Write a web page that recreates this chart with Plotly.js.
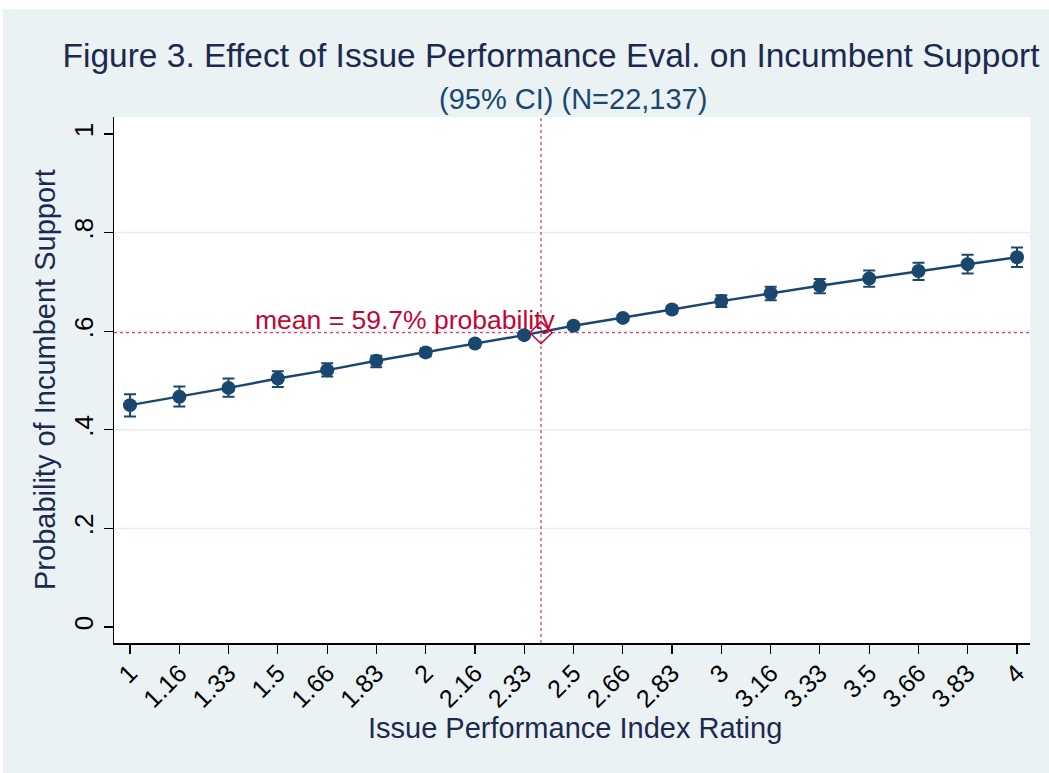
<!DOCTYPE html>
<html><head><meta charset="utf-8">
<script src="https://cdn.plot.ly/plotly-3.0.1.min.js"></script>
<style>html,body{margin:0;padding:0;background:#fff;}#chart{width:1049px;height:773px;}</style>
</head><body><div id="chart"></div>
<script>
// Data
const xValues = [1, 1.167, 1.333, 1.5, 1.667, 1.833, 2, 2.167, 2.333, 2.5, 2.667, 2.833, 3, 3.167, 3.333, 3.5, 3.667, 3.833, 4];
const xTickLabels = ["1","1.16","1.33","1.5","1.66","1.83","2","2.16","2.33","2.5","2.66","2.83","3","3.16","3.33","3.5","3.66","3.83","4"];
const probability = [0.450, 0.467, 0.485, 0.504, 0.521, 0.540, 0.557, 0.575, 0.592, 0.611, 0.627, 0.644, 0.661, 0.677, 0.692, 0.707, 0.722, 0.736, 0.750];
const ciLower = [0.427, 0.447, 0.467, 0.487, 0.508, 0.527, 0.549, 0.569, 0.587, 0.606, 0.621, 0.637, 0.649, 0.663, 0.677, 0.690, 0.704, 0.717, 0.730];
const ciUpper = [0.472, 0.488, 0.504, 0.519, 0.535, 0.550, 0.565, 0.581, 0.597, 0.616, 0.633, 0.651, 0.673, 0.690, 0.706, 0.723, 0.739, 0.755, 0.770];
const meanX = 2.39;
const meanY = 0.597;
const yTickVals = [0, 0.2, 0.4, 0.6, 0.8, 1];
const yTickLabels = ["0", ".2", ".4", ".6", ".8", "1"];
const gridVals = [0.2, 0.4, 0.6, 0.8];

const navy = '#1a476f';
const red = '#c10534';

const traces = [
  {
    x: xValues, y: probability, type: 'scatter', mode: 'lines+markers',
    line: {color: navy, width: 2.5},
    marker: {color: navy, size: 14},
    error_y: {type: 'data', symmetric: false,
      array: probability.map((v, i) => ciUpper[i] - v),
      arrayminus: probability.map((v, i) => v - ciLower[i]),
      color: navy, thickness: 2, width: 6},
    hoverinfo: 'x+y', showlegend: false
  },
  {
    x: [meanX], y: [meanY], type: 'scatter', mode: 'markers',
    marker: {symbol: 'diamond-open', size: 17, color: red, line: {width: 1.5, color: red}},
    showlegend: false
  }
];

const shapes = [];
gridVals.forEach(v => shapes.push({type: 'line', xref: 'paper', yref: 'y', x0: 0, x1: 1, y0: v, y1: v,
  line: {color: '#e6eef0', width: 1.5}, layer: 'below'}));
shapes.push({type: 'line', xref: 'paper', yref: 'y', x0: 0, x1: 1, y0: meanY, y1: meanY,
  line: {color: '#d8456b', width: 1.3, dash: 'dot'}, layer: 'below'});
shapes.push({type: 'line', xref: 'x', yref: 'paper', x0: meanX, x1: meanX, y0: 0, y1: 1,
  line: {color: '#d8456b', width: 1.3, dash: 'dot'}, layer: 'below'});
// white outer strips (top and left)
shapes.push({type: 'rect', xref: 'paper', yref: 'paper', x0: -0.2, x1: 1.1, y0: (643 - 9.3) / 526, y1: 1.3,
  fillcolor: '#ffffff', line: {width: 0}, layer: 'below'});
shapes.push({type: 'rect', xref: 'paper', yref: 'paper', x0: -0.2, x1: (3 - 114) / 916, y0: -0.3, y1: 1.3,
  fillcolor: '#ffffff', line: {width: 0}, layer: 'below'});

const font = 'Liberation Sans, Arial, sans-serif';

const layout = {
  width: 1049, height: 773,
  paper_bgcolor: '#eaf2f3', plot_bgcolor: '#ffffff',
  margin: {l: 114, r: 19, t: 117, b: 130},
  font: {family: font, color: '#000'},
  title: {text: 'Figure 3. Effect of Issue Performance Eval. on Incumbent Support',
    font: {family: font, size: 33.5, color: '#1c2a50'},
    x: 551 / 1049, xanchor: 'center', xref: 'container', y: 1 - 55 / 773, yanchor: 'middle', yref: 'container'},
  xaxis: {
    range: [1 - 16 / 295.67, 4 + 13 / 295.67],
    tickmode: 'array', tickvals: xValues, ticktext: xTickLabels, tickangle: -45,
    tickfont: {family: font, size: 25, color: '#000'}, ticklabelstandoff: -5,
    ticks: 'outside', ticklen: 9, tickwidth: 1.2, tickcolor: '#000',
    showline: true, linecolor: '#000', linewidth: 1.5, showgrid: false, zeroline: false, fixedrange: true
  },
  yaxis: {
    range: [-0.0325, 1.0345],
    tickmode: 'array', tickvals: yTickVals, ticktext: yTickLabels, tickangle: -90,
    tickfont: {family: font, size: 26, color: '#000'},
    ticks: 'outside', ticklen: 9, tickwidth: 1.2, tickcolor: '#000',
    showline: true, linecolor: '#000', linewidth: 1.5, showgrid: false, zeroline: false, fixedrange: true
  },
  shapes: shapes,
  annotations: [
    {text: '(95% CI) (N=22,137)', xref: 'paper', yref: 'paper', x: (573 - 114) / 916, y: (643 - 99) / 526,
      xanchor: 'center', yanchor: 'middle', showarrow: false, font: {family: font, size: 29, color: navy}},
    {text: 'mean = 59.7% probability', xref: 'paper', yref: 'y', x: (558 - 114) / 916, y: meanY,
      xanchor: 'right', yanchor: 'bottom', yshift: -4, showarrow: false, font: {family: font, size: 26.5, color: red}},
    {text: 'Issue Performance Index Rating', xref: 'paper', yref: 'paper', x: (575 - 114) / 916, y: (643 - 728) / 526,
      xanchor: 'center', yanchor: 'middle', showarrow: false, font: {family: font, size: 29, color: '#1c2a50'}},
    {text: 'Probability of Incumbent Support', xref: 'paper', yref: 'paper', x: (45 - 114) / 916, y: (643 - 380) / 526,
      xanchor: 'center', yanchor: 'middle', textangle: -90, showarrow: false, font: {family: font, size: 29, color: '#1c2a50'}}
  ]
};

Plotly.newPlot('chart', traces, layout, {displayModeBar: false, staticPlot: true});
</script></body></html>
